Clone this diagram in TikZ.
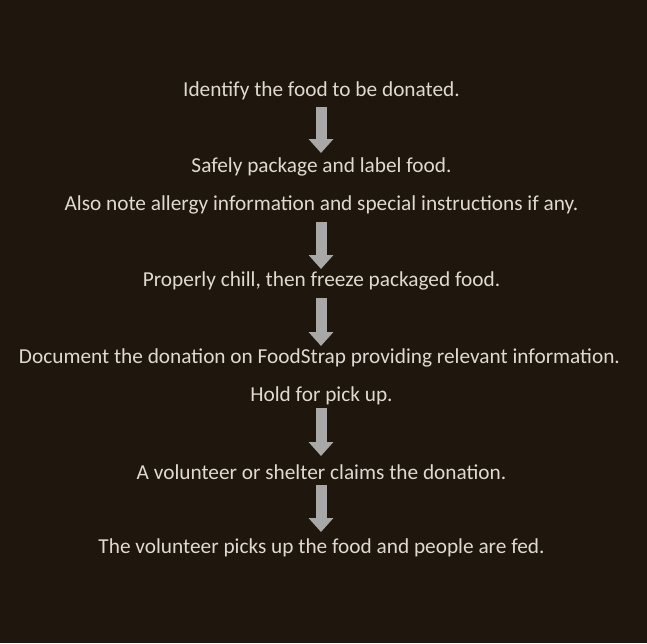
\documentclass[tikz,border=0pt]{standalone}
\usepackage{fontspec}
\setmainfont{Carlito}
\usetikzlibrary{arrows.meta}
\definecolor{bg}{RGB}{31,22,13}
\definecolor{txt}{RGB}{222,218,211}
\definecolor{arr}{RGB}{168,168,168}
\tikzset{
  lbl/.style={text=txt, font=\fontsize{21.3}{24}\selectfont, inner sep=0pt, anchor=center},
  bigarrow/.style={draw=arr, line width=11pt, -{Triangle[width=24pt,length=14pt]}, arr}
}
\begin{document}
\begin{tikzpicture}[x=1pt,y=-1pt]
\fill[bg] (0,0) rectangle (647,643);
\useasboundingbox (0,0) rectangle (647,643);
\node[lbl] (t1) at (321.5,91) {Identify the food to be donated.};
\node[lbl] (t2) at (321.5,167) {Safely package and label food.};
\node[lbl] (t2b) at (321.5,205) {Also note allergy information and special instructions if any.};
\node[lbl] (t3) at (321.5,281) {Properly chill, then freeze packaged food.};
\node[lbl] (t4) at (319.5,358) {Document the donation on FoodStrap providing relevant information.};
\node[lbl] (t4b) at (321.5,396) {Hold for pick up.};
\node[lbl] (t5) at (321.5,472) {A volunteer or shelter claims the donation.};
\node[lbl] (t6) at (321.5,548) {The volunteer picks up the food and people are fed.};
\coordinate (s1) at (321,107); \coordinate (e1) at (321,153);
\coordinate (s2) at (321,222); \coordinate (e2) at (321,269);
\coordinate (s3) at (321,298); \coordinate (e3) at (321,346);
\coordinate (s4) at (321,408); \coordinate (e4) at (321,456);
\coordinate (s5) at (321,485); \coordinate (e5) at (321,532);
\draw[bigarrow] (s1) -- (e1);
\draw[bigarrow] (s2) -- (e2);
\draw[bigarrow] (s3) -- (e3);
\draw[bigarrow] (s4) -- (e4);
\draw[bigarrow] (s5) -- (e5);
\end{tikzpicture}
\end{document}
